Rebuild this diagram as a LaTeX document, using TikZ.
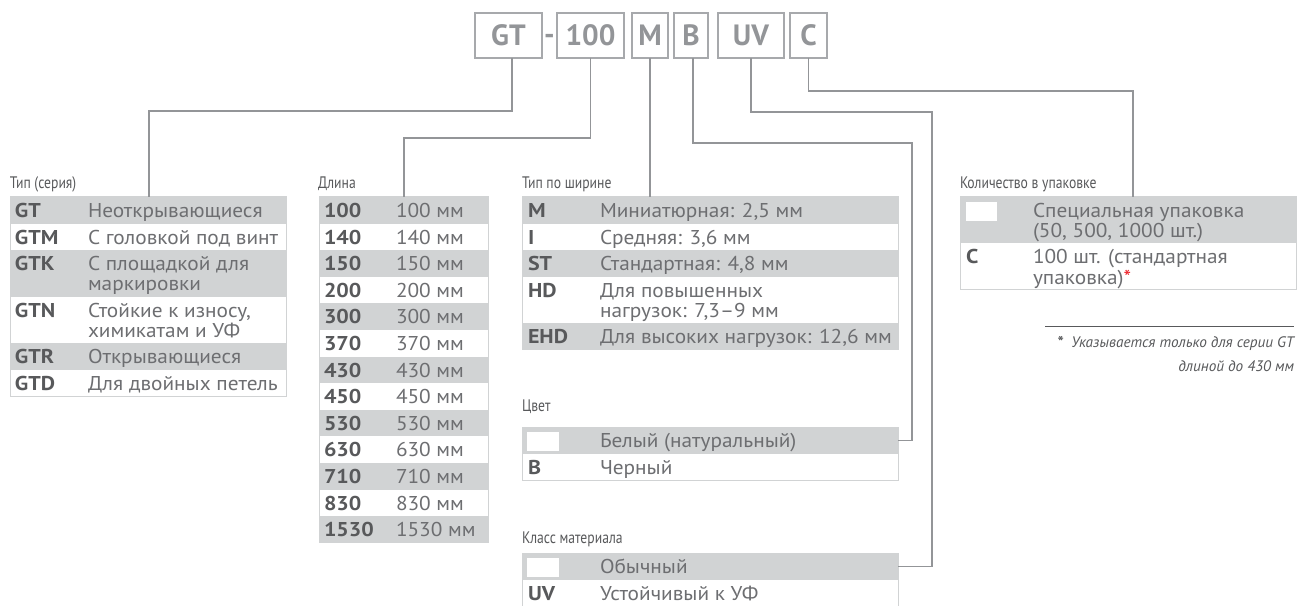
\documentclass[tikz,border=0pt]{standalone}
\usepackage{fontspec}
\setmainfont{PT Sans}[UprightFeatures={FakeStretch=1.065},BoldFeatures={FakeStretch=1.1}]
\newfontfamily\condfont{PT Sans}[FakeStretch=0.82]
\newfontfamily\plainfont{PT Sans}
\definecolor{rowgray}{HTML}{D1D3D4}
\definecolor{linegray}{HTML}{939598}
\definecolor{boxgray}{HTML}{A7A9AC}
\definecolor{codegray}{HTML}{58595B}
\definecolor{descgray}{HTML}{6D6E71}
\definecolor{starred}{HTML}{ED1C24}
\newcommand{\cell}[1]{\begin{tabular}[t]{@{}l@{}}#1\end{tabular}}
\begin{document}
\begin{tikzpicture}[x=0.75pt,y=-0.75pt,
  every node/.style={inner sep=0pt,outer sep=0pt},
  wire/.style={draw=linegray,line width=0.8pt},
  tabframe/.style={draw=rowgray,line width=0.75pt},
  keybox/.style={draw=boxgray,line width=1.1pt,minimum height=33.75pt,text=linegray,font=\plainfont\fontsize{22}{24}\selectfont\bfseries},
  headline/.style={anchor=base west,text=codegray,font=\condfont\fontsize{12.5}{14}\selectfont},
  code/.style={anchor=base west,text=codegray,font=\fontsize{15}{15}\selectfont\bfseries},
  desc/.style={anchor=base west,text=descgray,font=\fontsize{15}{15}\selectfont},
  footnote/.style={anchor=base east,text=codegray,font=\fontsize{11.4}{13}\selectfont\itshape}]
\path[fill=white,use as bounding box] (0,0) rectangle (1297,606);
% order code
\node[keybox,minimum width=50.25pt] (gt) at (508.5,35.5) {GT};
\node[text=linegray,font=\plainfont\fontsize{22}{24}\selectfont\bfseries] (dash) at (549.5,39.5) {-};
\node[keybox,minimum width=50.25pt] (len) at (590.5,35.5) {100};
\node[keybox,minimum width=27pt] (wid) at (650,35.5) {M};
\node[keybox,minimum width=25.5pt] (col) at (691,35.5) {B};
\node[keybox,minimum width=49.5pt] (mat) at (751,35.5) {UV};
\node[keybox,minimum width=27.75pt] (qty) at (808.5,35.5) {C};

% Тип (серия)
\node[headline] (sercap) at (10,189) {Тип (серия)};
\foreach \ty/\hh/\kd/\tx/\fc [count=\i] in {197/26.6/GT/Неоткрывающиеся/rowgray,
    223.6/26.6/GTM/С головкой под винт/white,
    250.2/46.5/GTK/{\cell{С площадкой для\\маркировки}}/rowgray,
    296.7/46.5/GTN/{\cell{Стойкие к износу,\\химикатам и УФ}}/white,
    343.2/26.6/GTR/Открывающиеся/rowgray,
    369.8/26.6/GTD/Для двойных петель/white} {
  \fill[\fc] (10,\ty) rectangle (286,\ty+\hh);
  \node[code] (ser-c\i) at (15,\ty+20.5) {\kd};
  \node[desc] (ser-d\i) at (88,\ty+20.5) {\tx};
}
\draw[tabframe] (10,197) rectangle (286,396.4);

% Длина
\node[headline] (lencap) at (318,189) {Длина};
\foreach \kd/\fc [count=\i] in {100/rowgray,140/white,150/rowgray,200/white,300/rowgray,370/white,430/rowgray,450/white,530/rowgray,630/white,710/rowgray,830/white,1530/rowgray} {
  \fill[\fc] (319,170.4+26.6*\i) rectangle (488,197+26.6*\i);
  \node[code] (len-c\i) at (324,190.9+26.6*\i) {\kd};
  \node[desc] (len-d\i) at (396,190.9+26.6*\i) {\kd~мм};
}
\draw[tabframe] (319,197) rectangle (488,542.8);

% Тип по ширине
\node[headline] (widcap) at (522,189) {Тип по ширине};
\foreach \ty/\hh/\kd/\tx/\fc [count=\i] in {197/26.6/M/{Миниатюрная: 2,5 мм}/rowgray,
    223.6/26.6/I/{Средняя: 3,6 мм}/white,
    250.2/26.6/ST/{Стандартная: 4,8 мм}/rowgray,
    276.8/46.5/HD/{\cell{Для повышенных\\нагрузок: 7,3–9 мм}}/white,
    323.3/26.6/EHD/{Для высоких нагрузок: 12,6 мм}/rowgray} {
  \fill[\fc] (522,\ty) rectangle (898,\ty+\hh);
  \node[code] (wid-c\i) at (528,\ty+20.5) {\kd};
  \node[desc] (wid-d\i) at (600,\ty+20.5) {\tx};
}
\draw[tabframe] (522,197) rectangle (898,349.9);

% Цвет
\node[headline] (colcap) at (522,411) {Цвет};
\fill[rowgray] (522,427) rectangle (898,453.6);
\fill[white] (527,432) rectangle (559,451);
\node[desc] (col-d1) at (600,447.5) {Белый (натуральный)};
\node[code] (col-c2) at (528,474.1) {B};
\node[desc] (col-d2) at (600,474.1) {Черный};
\draw[tabframe] (522,427) rectangle (898,480.2);

% Класс материала
\node[headline] (matcap) at (522,543) {Класс материала};
\fill[rowgray] (522,553) rectangle (898,579.6);
\fill[white] (527,558) rectangle (559,577);
\node[desc] (mat-d1) at (600,573.5) {Обычный};
\node[code] (mat-c2) at (528,600.1) {UV};
\node[desc] (mat-d2) at (600,600.1) {Устойчивый к УФ};
\draw[tabframe] (522,553) rectangle (898,606.2);

% Количество в упаковке
\node[headline] (qtycap) at (960,189) {Количество в упаковке};
\fill[rowgray] (960,197) rectangle (1296,243.5);
\fill[white] (966,202) rectangle (997,221);
\node[desc] (qty-d1) at (1033,217.5) {\cell{Специальная упаковка\\(50, 500, 1000 шт.)}};
\node[code] (qty-c2) at (966,264) {C};
\node[desc] (qty-d2) at (1033,264) {\cell{100 шт. (стандартная\\упаковка)\textcolor{starred}{*}}};
\draw[tabframe] (960,197) rectangle (1296,290);

% footnote
\coordinate (fnl) at (1045,326);
\coordinate (fnr) at (1294,326);
\draw[codegray,line width=0.6pt] (fnl) -- (fnr);
\node[footnote] (fn1) at (1294,348) {\textbf{\upshape *}\enspace Указывается только для серии GT};
\node[footnote] (fn2) at (1294,371) {длиной до 430 мм};

% connectors
\coordinate (sertop) at (149,197);
\coordinate (lentop) at (404,197);
\coordinate (widtop) at (650,197);
\coordinate (colbend) at (912,440.3);
\coordinate (colend) at (898,440.3);
\coordinate (matbend) at (932,566.3);
\coordinate (matend) at (898,566.3);
\coordinate (qtytop) at (1133,197);
\draw[wire] ([xshift=2.6pt]gt.south) -- ++(0,53) -| (sertop);
\draw[wire] (len.south) -- ++(0,80) -| (lentop);
\draw[wire] (wid.south) -- (widtop);
\draw[wire] ([xshift=1.5pt]col.south) -- ++(0,85) -| (colbend) -- (colend);
\draw[wire] (mat.south) -- ++(0,54) -| (matbend) -- (matend);
\draw[wire] (qty.south) -- ++(0,33) -| (qtytop);
\end{tikzpicture}
\end{document}
